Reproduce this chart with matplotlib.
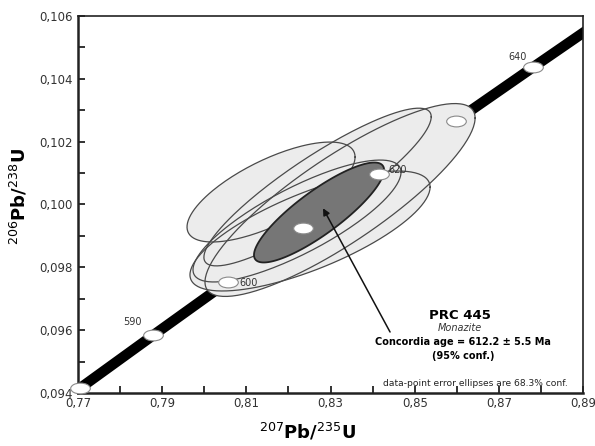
import numpy as np
import matplotlib
matplotlib.use("Agg")
import matplotlib.pyplot as plt
import matplotlib.path as mpath
from matplotlib.transforms import Affine2D
from matplotlib.ticker import FixedLocator, FuncFormatter

# concordia curve points (age in Ma, 207Pb/235U, 206Pb/238U)
conc_age = [570, 580, 590, 600, 610, 620, 630, 640, 650]
conc_x = [0.75306, 0.77042, 0.78794, 0.80563, 0.82350, 0.84155, 0.85978, 0.87818, 0.89677]
conc_y = [0.092448, 0.094144, 0.095843, 0.097544, 0.099248, 0.100955, 0.102664, 0.104376, 0.106091]

# age ticks on the concordia and the ones that carry a label
tick_ages = [580, 590, 600, 610, 620, 630, 640]
labelled_ages = [590, 600, 620, 640]

# data-point error ellipses: centre x, centre y, half-width x, half-height y, rho
ell_cx = [0.81587, 0.83226, 0.82692, 0.82513, 0.82204]
ell_cy = [0.100397, 0.100143, 0.100556, 0.099156, 0.099474]
ell_sx = [0.01996, 0.03208, 0.02700, 0.02852, 0.02471]
ell_sy = [0.001591, 0.003071, 0.002511, 0.001910, 0.001941]
ell_rho = [0.70, 0.85, 0.89, 0.73, 0.80]

# concordia age ellipse
age_cx, age_cy, age_sx, age_sy, age_rho = 0.82727, 0.099745, 0.01545, 0.001591, 0.85

x_ticks = [0.77, 0.79, 0.81, 0.83, 0.85, 0.87, 0.89]
x_minor = [0.78, 0.80, 0.82, 0.84, 0.86, 0.88]
y_ticks = [0.094, 0.096, 0.098, 0.100, 0.102, 0.104, 0.106]
y_minor = [0.095, 0.097, 0.099, 0.101, 0.103, 0.105]


def ellipse_xy(cx, cy, sx, sy, rho, n=200):
    t = np.linspace(0, 2 * np.pi, n)
    x = cx + sx * np.cos(t)
    y = cy + sy * (rho * np.cos(t) + np.sqrt(1 - rho ** 2) * np.sin(t))
    return x, y


fig = plt.figure(figsize=(5.95, 4.46), dpi=100)
ax = fig.add_axes([0.131, 0.119, 0.849, 0.845])

# concordia band
ax.plot(conc_x, conc_y, color="black", lw=7.5, solid_capstyle="butt", zorder=1)

# light error ellipses: fills first, then all outlines
shapes = [ellipse_xy(*p) for p in zip(ell_cx, ell_cy, ell_sx, ell_sy, ell_rho)]
for x, y in shapes:
    ax.fill(x, y, color="#ececec", lw=0, zorder=2)
for x, y in shapes:
    ax.plot(x, y, color="#4a4a4a", lw=0.9, zorder=3)

# concordia age ellipse
x, y = ellipse_xy(age_cx, age_cy, age_sx, age_sy, age_rho)
ax.fill(x, y, facecolor="#767676", edgecolor="#222222", lw=1.3, zorder=4)

# age markers
oval = mpath.Path.unit_circle().transformed(Affine2D().scale(1, 0.55))
mx = [conc_x[conc_age.index(a)] for a in tick_ages]
my = [conc_y[conc_age.index(a)] for a in tick_ages]
ax.scatter(mx, my, marker=oval, s=200, facecolor="white", edgecolor="#8a8a8a",
           lw=0.8, zorder=6, clip_on=False)

offsets = {590: (-22, 7), 600: (8, -3), 620: (7, 1), 640: (-18, 5)}
for a in labelled_ages:
    i = conc_age.index(a)
    dx, dy = offsets[a]
    ax.annotate(str(a), (conc_x[i], conc_y[i]), xytext=(dx, dy), textcoords="offset points",
                fontsize=7, color="#333333", zorder=7)

# arrow to the concordia age ellipse
ax.annotate("", xy=(0.82822, 0.09988), xytext=(0.84414, 0.09594),
            arrowprops=dict(arrowstyle="-|>", color="#111111", lw=1.1,
                            mutation_scale=10, shrinkA=0, shrinkB=0), zorder=8)

# annotation texts
ax.text(0.8608, 0.09648, "PRC 445", fontsize=9.5, fontweight="bold", ha="center", va="center")
ax.text(0.8608, 0.09607, "Monazite", fontsize=7, style="italic", ha="center", va="center",
        color="#333333")
ax.text(0.8615, 0.09562, "Concordia age = 612.2 \u00b1 5.5 Ma", fontsize=7, fontweight="bold",
        ha="center", va="center")
ax.text(0.8615, 0.09518, "(95% conf.)", fontsize=7, fontweight="bold", ha="center", va="center")
ax.text(0.8643, 0.09429, "data-point error ellipses are 68.3% conf.", fontsize=6.6,
        ha="center", va="center", color="#222222")

ax.set_xlim(0.77, 0.89)
ax.set_ylim(0.094, 0.106)
ax.xaxis.set_major_locator(FixedLocator(x_ticks))
ax.xaxis.set_minor_locator(FixedLocator(x_minor))
ax.yaxis.set_major_locator(FixedLocator(y_ticks))
ax.yaxis.set_minor_locator(FixedLocator(y_minor))
ax.xaxis.set_major_formatter(FuncFormatter(lambda v, p: f"{v:.2f}".replace(".", ",")))
ax.yaxis.set_major_formatter(FuncFormatter(lambda v, p: f"{v:.3f}".replace(".", ",")))
ax.tick_params(which="both", direction="in", color="#222222", width=1.3, length=5,
               labelsize=8.5, labelcolor="#333333")
ax.tick_params(axis="x", pad=3)
ax.tick_params(axis="y", pad=4)

for side in ["left", "bottom"]:
    ax.spines[side].set_linewidth(1.8)
for side in ["top", "right"]:
    ax.spines[side].set_linewidth(1.2)
for s in ax.spines.values():
    s.set_color("#222222")

fig.text(307 / 595, 1 - 432 / 446, "$^{207}$Pb/$^{235}$U", fontsize=13, fontweight="bold",
         ha="center", va="center")
fig.text(19 / 595, 1 - 197 / 446, "$^{206}$Pb/$^{238}$U", fontsize=13, fontweight="bold",
         ha="center", va="center", rotation=90)

fig.savefig("out.png", dpi=100)
